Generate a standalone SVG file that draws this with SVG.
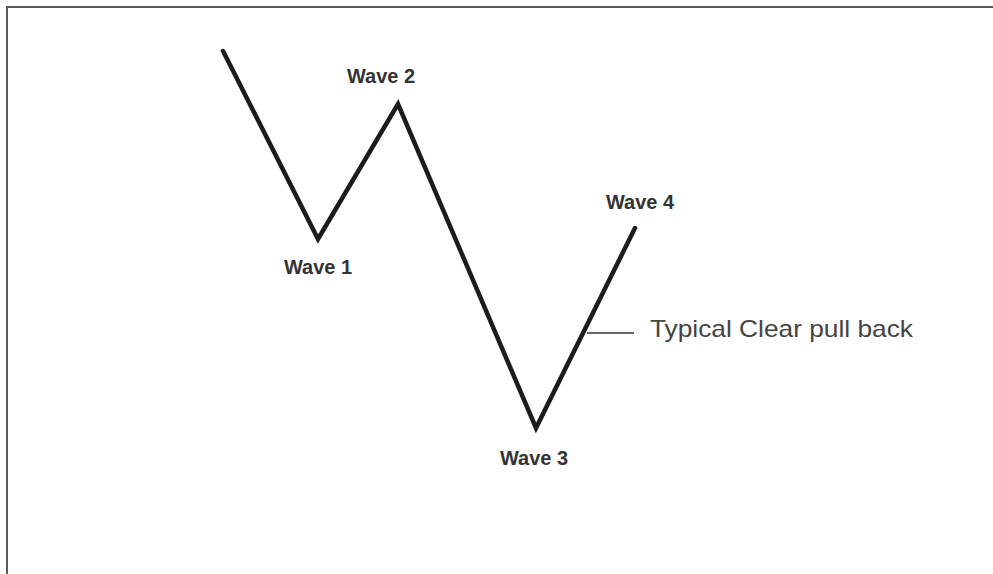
<svg xmlns="http://www.w3.org/2000/svg" width="993" height="574" viewBox="0 0 993 574">
<style>
.frame{fill:none;stroke:#5a5a5a;stroke-width:2}
.wave{fill:none;stroke:#1c1c1c;stroke-width:4.5;stroke-linejoin:miter;stroke-linecap:round}
.lbl{font-family:"Liberation Sans",Arial,sans-serif;font-weight:bold;font-size:21px;fill:#333;text-anchor:middle}
.note{font-family:"Liberation Sans",Arial,sans-serif;font-size:24px;fill:#444}
.ptr{stroke:#333;stroke-width:1.5}
</style>
<rect width="993" height="574" fill="#fff"/>
<path class="frame" d="M7 574 V7 H993"/>
<g id="connectors">
<polyline class="wave" points="223,51 318,239 398,104 536,428 635,228"/>
<line class="ptr" x1="587" y1="333" x2="634" y2="333"/>
</g>
<g id="wave1"><text class="lbl" x="318" y="274" textLength="68" lengthAdjust="spacingAndGlyphs">Wave 1</text></g>
<g id="wave2"><text class="lbl" x="381" y="83" textLength="68" lengthAdjust="spacingAndGlyphs">Wave 2</text></g>
<g id="wave3"><text class="lbl" x="534" y="465" textLength="68" lengthAdjust="spacingAndGlyphs">Wave 3</text></g>
<g id="wave4"><text class="lbl" x="640" y="209" textLength="68" lengthAdjust="spacingAndGlyphs">Wave 4</text></g>
<g id="note"><text class="note" x="650" y="337" textLength="263" lengthAdjust="spacingAndGlyphs">Typical Clear pull back</text></g>
</svg>
